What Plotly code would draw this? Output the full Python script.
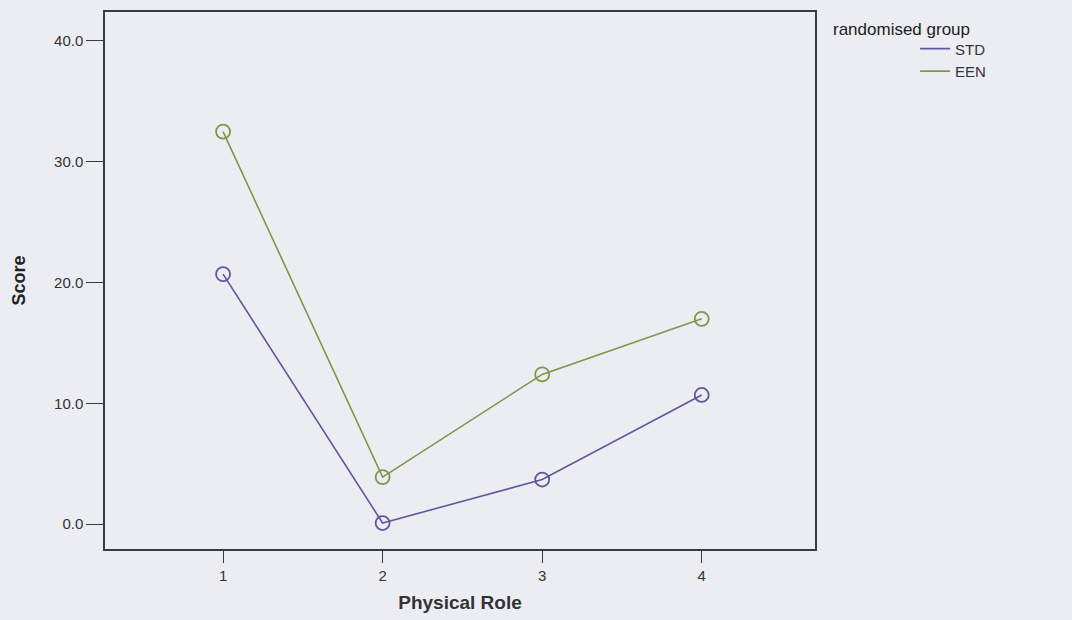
import plotly.graph_objects as go

categories = [1, 2, 3, 4]
std_scores = [20.7, 0.1, 3.7, 10.7]
een_scores = [32.5, 3.9, 12.4, 17.0]
y_ticks = [0, 10, 20, 30, 40]
y_tick_labels = ["0.0", "10.0", "20.0", "30.0", "40.0"]

STD_COLOR = "#5b5a9c"
EEN_COLOR = "#7d9848"
BG = "#ecedf3"
AX = "#3a3a44"

fig = go.Figure()
for name, vals, col in [("STD", std_scores, STD_COLOR), ("EEN", een_scores, EEN_COLOR)]:
    fig.add_trace(go.Scatter(
        x=categories, y=vals, mode="lines", name=name,
        line=dict(color=col, width=1.6), showlegend=True))
    fig.add_trace(go.Scatter(
        x=categories, y=vals, mode="markers", name=name, showlegend=False,
        marker=dict(symbol="circle-open", size=14, color=col, line=dict(width=1.8, color=col))))

fig.update_layout(
    width=1072, height=620,
    margin=dict(l=105, r=257, t=10, b=68),
    paper_bgcolor=BG, plot_bgcolor=BG,
    font=dict(family="Liberation Sans, Arial, sans-serif", color="#333", size=14),
    showlegend=True,
    legend=dict(x=1.141, xanchor="left", y=0.962, yanchor="top",
                bgcolor="rgba(0,0,0,0)", font=dict(size=15, color="#333"),
                tracegroupgap=0),
    xaxis=dict(range=[0.26, 4.71], tickmode="array", tickvals=categories,
               ticktext=[str(c) for c in categories],
               showgrid=False, zeroline=False, showline=True, mirror=True,
               linecolor=AX, linewidth=1.5, ticks="outside", ticklen=12,
               tickcolor=AX, tickwidth=1.3, tickfont=dict(size=15, color="#333"),
               title=dict(text="<b>Physical Role</b>", font=dict(size=19, color="#333"), standoff=13)),
    yaxis=dict(range=[-2.05, 42.4], tickmode="array", tickvals=y_ticks,
               ticktext=y_tick_labels,
               showgrid=False, zeroline=False, showline=True, mirror=True,
               linecolor=AX, linewidth=1.5, ticks="outside", ticklen=17,
               tickcolor=AX, tickwidth=1.3, tickfont=dict(size=15, color="#333"),
               title=dict(text="<b>Score</b>", font=dict(size=18, color="#222"), standoff=24)),
    annotations=[dict(text="randomised group", xref="paper", yref="paper",
                      x=1.022, y=0.967, xanchor="left", yanchor="middle",
                      showarrow=False, font=dict(size=17, color="#222"))],
)

fig.write_html("out.html", config={"displayModeBar": False},
               post_script="document.body.style.margin='0';document.body.style.overflow='hidden';")
